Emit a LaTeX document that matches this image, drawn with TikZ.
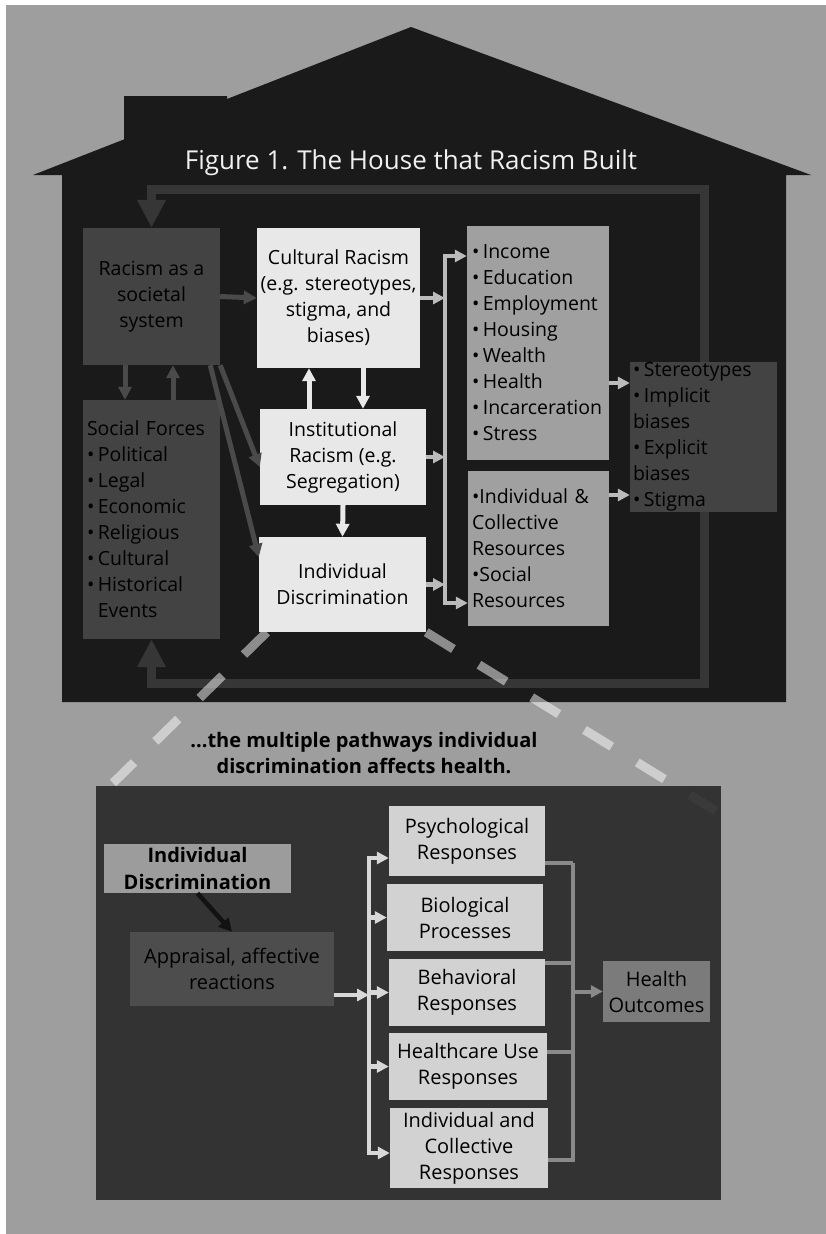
\documentclass[tikz,border=0pt]{standalone}
\usepackage{fontspec}
\setmainfont{Open Sans}
\usetikzlibrary{arrows.meta}

\definecolor{bggray}{HTML}{9E9E9E}
\definecolor{housecol}{HTML}{1A1A1A}
\definecolor{loopcol}{HTML}{363636}
\definecolor{boxdark}{HTML}{434343}
\definecolor{boxlight}{HTML}{E8E8E8}
\definecolor{boxmid}{HTML}{A0A0A0}
\definecolor{arrdark}{HTML}{4A4A4A}
\definecolor{arrlight}{HTML}{BBBBBB}
\definecolor{panelcol}{HTML}{212121}
\definecolor{respcol}{HTML}{D2D2D2}
\definecolor{outcol}{HTML}{7B7B7B}
\definecolor{apprcol}{HTML}{4D4D4D}
\definecolor{idiscol}{HTML}{9C9C9C}
\definecolor{connline}{HTML}{8A8A8A}
\definecolor{paleline}{HTML}{D8D8D8}

\newcommand{\itm}{•\nobreak\hspace{3.5pt}}

\pgfdeclarelayer{back}
\pgfdeclarelayer{mid}
\pgfsetlayers{back,mid,main}

\begin{document}
\begin{tikzpicture}[x=1pt, y=-1pt,
  box/.style={inner sep=0pt, align=center, font=\fontsize{19.5}{26}\selectfont},
  lbox/.style={box, align=left},
  resp/.style={box, fill=respcol, font=\fontsize{20}{26}\selectfont},
  darkarrow/.style={draw=arrdark, line width=5pt, -{Triangle[length=13pt, width=13pt]}},
  whitearrow/.style={draw=boxlight, line width=5pt, -{Triangle[length=13pt, width=13pt]}},
  lightarrow/.style={draw=arrlight, line width=4.5pt, -{Triangle[length=12pt, width=12pt]}},
  palearrow/.style={draw=paleline, line width=4.5pt, -{Triangle[length=12pt, width=12pt]}},
  grayline/.style={draw=connline, line width=4pt},
  loopline/.style={draw=loopcol, line width=9pt,
    {Triangle[length=28pt, width=27pt]}-{Triangle[length=28pt, width=27pt]}},
  dashline/.style={draw=white, draw opacity=0.5, line width=9pt, dash pattern=on 32pt off 30pt}]

  \useasboundingbox (0,0) rectangle (826,1234);

  % background and house
  \begin{pgfonlayer}{back}
    \fill[white] (0,0) rectangle (826,1234);
    \fill[bggray] (6,5) rectangle (826,1234);
    \fill[housecol] (33,175) -- (124,139.4) -- (124,96) -- (227,96) -- (227,99)
      -- (411,27) -- (811,175) -- (786,175) -- (786,702) -- (62,702) -- (62,175) -- cycle;
  \end{pgfonlayer}

  % title
  \node[font=\fontsize{26}{30}\selectfont, text=white!94!black] (title) at (411,163)
    {Figure 1. The House that Racism Built};

  % house boxes
  \node[box, fill=boxdark, minimum width=137pt, minimum height=137pt] (racism) at (151.5,296.5)
    {Racism as a\\ societal\\ system};
  \node[lbox, fill=boxdark, text width=129pt, inner xsep=4pt, minimum height=239pt] (social) at (151.5,519.5)
    {Social Forces\\ \itm Political\\ \itm Legal\\ \itm Economic\\ \itm Religious\\ \itm Cultural\\ \itm Historical\\ \phantom{\itm}Events};
  \node[box, fill=boxlight, minimum width=163pt, minimum height=140pt] (cultural) at (338.5,298)
    {Cultural Racism\\ (e.g. stereotypes,\\ stigma, and\\ biases)};
  \node[box, fill=boxlight, minimum width=166pt, minimum height=96pt] (inst) at (343,457)
    {Institutional\\ Racism (e.g.\\ Segregation)};
  \node[box, fill=boxlight, minimum width=167pt, minimum height=95pt] (indiv) at (342.5,584.5)
    {Individual\\ Discrimination};
  \node[lbox, fill=boxmid, text width=132pt, inner xsep=5pt, minimum height=234pt] (income) at (538,343)
    {\itm Income\\ \itm Education\\ \itm Employment\\ \itm Housing\\ \itm Wealth\\ \itm Health\\ \itm Incarceration\\ \itm Stress};
  \node[lbox, fill=boxmid, text width=133pt, inner xsep=4pt, minimum height=155pt] (resources) at (538.5,548.5)
    {•Individual \&\\ Collective\\ Resources\\ •Social\\ Resources};
  \node[lbox, fill=boxdark, text width=141pt, inner xsep=3pt, minimum height=150pt] (stereo) at (703.5,437)
    {\itm Stereotypes\\ \itm Implicit\\ biases\\ \itm Explicit\\ biases\\ \itm Stigma};

  % feedback loop round the house
  \coordinate (loopTR) at (704,189);
  \coordinate (loopBR) at (704,683);
  \begin{pgfonlayer}{mid}
    \draw[loopline] (social.south) |- (loopBR) -- (loopTR) -| (racism.north);
  \end{pgfonlayer}

  % arrows out of the societal system
  \draw[darkarrow] (racism.east) -- (cultural.west);
  \draw[darkarrow] ([xshift=-26.5pt]racism.south) -- ([xshift=-26.5pt]social.north);
  \draw[darkarrow] ([xshift=21.5pt]social.north) -- ([xshift=21.5pt]racism.south);
  \draw[darkarrow] (racism.south east) -- ([yshift=-10pt]inst.west);
  \draw[darkarrow] ([xshift=-10pt]racism.south east) -- ([yshift=27.5pt]indiv.west);

  % between the three kinds of racism
  \draw[whitearrow] ([xshift=24.5pt]cultural.south) -- ([xshift=24.5pt]cultural.south |- inst.north);
  \draw[whitearrow] ([xshift=-29.5pt]cultural.south |- inst.north) -- ([xshift=-29.5pt]cultural.south);
  \draw[whitearrow] (inst.south) -- (indiv.north);

  % collector to the outcomes
  \coordinate (ctop) at (445,256);
  \coordinate (cbot) at (445,603);
  \draw[lightarrow, {Triangle[length=12pt, width=12pt]}-{Triangle[length=12pt, width=12pt]}]
    (ctop -| income.west) -- (ctop) -- (cbot) -- (cbot -| resources.west);
  \foreach \b in {cultural,inst,indiv}
    \draw[lightarrow] (\b.east) -- (\b.east -| ctop);
  \draw[lightarrow] ([yshift=-40pt]income.east) -- ([yshift=-40pt]income.east -| stereo.west);
  \draw[lightarrow] ([yshift=53.5pt]resources.east) -- ([yshift=53.5pt]resources.east -| stereo.west);

  % zoom lines
  \coordinate (zoomL) at (113,783);
  \coordinate (zoomR) at (716,811);
  \begin{pgfonlayer}{mid}
    \draw[dashline] ([xshift=8pt]indiv.south west) -- (zoomL);
    \draw[dashline] (indiv.south east) -- (zoomR);
  \end{pgfonlayer}

  % subtitle
  \node[font=\bfseries\fontsize{20}{26}\selectfont, align=center] (sub) at (364,753)
    {...the multiple pathways individual\\ discrimination affects health.};

  % lower panel
  \fill[panelcol, fill opacity=0.85] (96,786) rectangle (721,1200);

  \node[box, fill=idiscol, minimum width=187pt, minimum height=49pt,
    font=\bfseries\fontsize{20}{27}\selectfont] (idisc) at (197.5,868.5)
    {Individual\\ Discrimination};
  \node[box, fill=apprcol, minimum width=204pt, minimum height=74pt,
    font=\fontsize{20}{26}\selectfont] (appraisal) at (232,969)
    {Appraisal, affective\\ reactions};
  \node[resp, minimum width=156pt, minimum height=70pt] (psych) at (467,841) {Psychological\\ Responses};
  \node[resp, minimum width=156pt, minimum height=67pt] (bio) at (465,917.5) {Biological\\ Processes};
  \node[resp, minimum width=156pt, minimum height=67pt] (behav) at (467,992.5) {Behavioral\\ Responses};
  \node[resp, minimum width=158pt, minimum height=67pt] (hcare) at (468,1066.5) {Healthcare Use\\ Responses};
  \node[resp, minimum width=158pt, minimum height=80pt] (indcoll) at (469,1148)
    {Individual and\\ Collective\\ Responses};
  \node[box, fill=outcol, minimum width=107pt, minimum height=61pt,
    font=\fontsize{20}{26}\selectfont] (outcomes) at (656.5,991.5) {Health\\ Outcomes};

  % pathways
  \draw[draw=black!93, line width=4.5pt, -{Triangle[length=13pt, width=13pt]}] (idisc.south) -- (appraisal.north);
  \coordinate (ltop) at (369,858);
  \coordinate (lbot) at (369,1153);
  \coordinate (aout) at ([yshift=-26pt]appraisal.east);
  \draw[palearrow] (aout) -- (aout -| ltop);
  \draw[palearrow, {Triangle[length=12pt, width=12pt]}-{Triangle[length=12pt, width=12pt]}]
    (ltop -| psych.west) -- (ltop) -- (lbot) -- (lbot -| indcoll.west);
  \foreach \b in {bio,behav,hcare}
    \draw[palearrow] (\b.west -| ltop) -- (\b.west);

  % into health outcomes
  \coordinate (rtop) at (573,863);
  \foreach \b/\s in {psych/-22pt, behav/29.5pt, hcare/14.5pt, indcoll/-12pt}
    \draw[grayline] ([yshift=\s]\b.east) -| (rtop);
  \draw[grayline, -{Triangle[length=12pt, width=12pt]}] (rtop |- outcomes.west) -- (outcomes.west);
\end{tikzpicture}
\end{document}
